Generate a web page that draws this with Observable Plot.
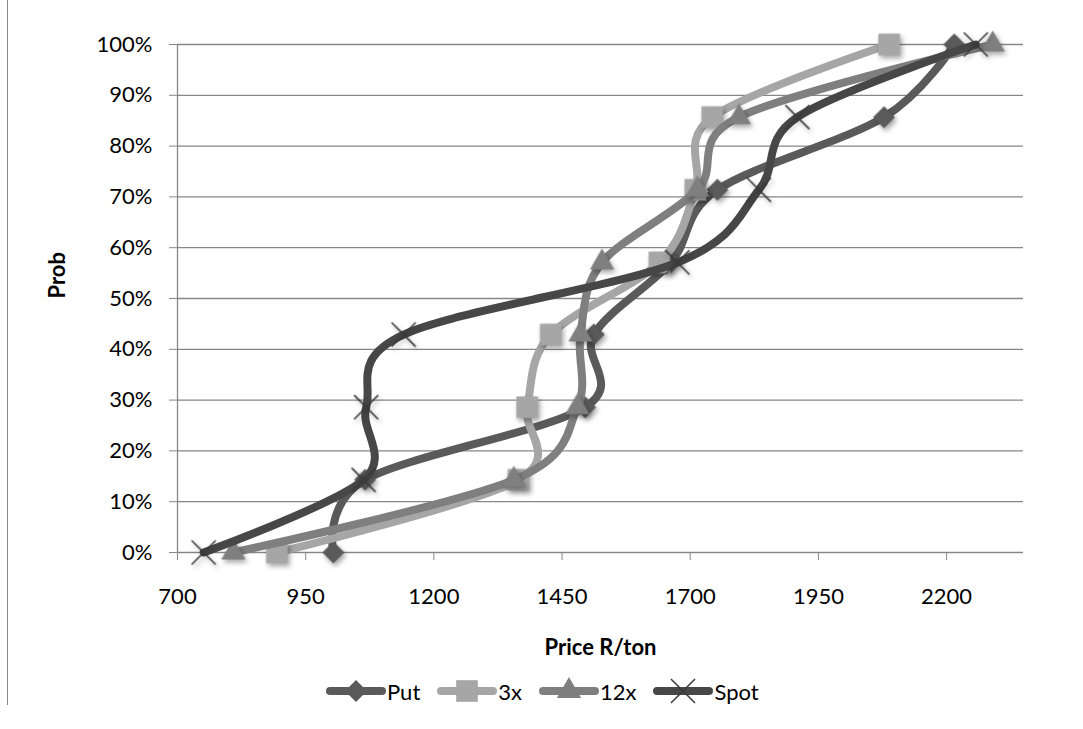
<!DOCTYPE html>
<html><head><meta charset="utf-8">
<script src="https://cdn.jsdelivr.net/npm/d3@7"></script>
<script src="https://cdn.jsdelivr.net/npm/@observablehq/plot@0.6"></script>
<style>
body{margin:0;background:#fff;font-family:Lato,"Open Sans",sans-serif;}
#wrap{position:relative;width:1083px;height:729px;overflow:hidden;}
#border{position:absolute;left:7px;top:0;width:0;height:705px;border-left:1.5px solid #868686;}
#chart{position:absolute;left:0;top:0;}
#legend{position:absolute;left:326px;top:674px;height:34px;display:flex;align-items:center;font-size:22px;color:#000;}
#legend .item{display:flex;align-items:center;margin-right:17px;}
#legend .item span{margin-left:1px;}
</style></head><body>
<div id="wrap"><div id="border"></div><div id="chart"></div><div id="legend"></div></div>
<script>
// probability levels (y values)
const probs = [0, 0.143, 0.286, 0.429, 0.571, 0.714, 0.857, 1.0];
// price (x values) per series
const putPrice  = [1004, 1066, 1495, 1512, 1662, 1753, 2078, 2215];
const x3Price   = [894, 1365, 1382, 1428, 1640, 1710, 1743, 2088];
const x12Price  = [809, 1356, 1480, 1486, 1528, 1714, 1795, 2290];
const spotPrice = [751, 1063, 1068, 1141, 1675, 1834, 1909, 2257];
const seriesNames = ["Put", "3x", "12x", "Spot"];
const xTicks = [700, 950, 1200, 1450, 1700, 1950, 2200];
const yTicks = [0, 0.1, 0.2, 0.3, 0.4, 0.5, 0.6, 0.7, 0.8, 0.9, 1.0];

const styles = {
  "Put":  {color:"#5a5a5a", symbol:"diamond2", r:9.9},
  "3x":   {color:"#a6a6a6", symbol:"square", r:12.2},
  "12x":  {color:"#7f7f7f", symbol:"triangle", r:9},
  "Spot": {color:"#474747", symbol:"times", r:11}
};
const priceLists = [putPrice, x3Price, x12Price, spotPrice];
const series = seriesNames.map((name, k) => ({
  name,
  rows: priceLists[k].map((p, i) => ({series: name, price: p, prob: probs[i]}))
}));

const marks = [
  Plot.ruleY(yTicks, {stroke: "#878787", strokeWidth: 1.3}),
  Plot.ruleX([700], {stroke: "#878787", strokeWidth: 1.3}),
  Plot.axisY({ticks: yTicks, tickFormat: d3.format(".0%"), tickSize: 8, tickPadding: 17, stroke: "#878787", label: null}),
  Plot.axisX({ticks: xTicks, tickFormat: d => String(d), tickSize: 8, tickPadding: 28, stroke: "#878787", label: null}),
  Plot.text(["Prob"], {frameAnchor: "left", dx: -120, rotate: -90, fontWeight: "bold", fontSize: 22}),
  Plot.text(["Price R/ton"], {frameAnchor: "bottom", dy: 102, fontWeight: "bold", fontSize: 22})
];
for (const s of series) {
  const st = styles[s.name];
  marks.push(Plot.line(s.rows, {x: "price", y: "prob", stroke: st.color, strokeWidth: 8, curve: "cardinal", strokeLinecap: "round", strokeLinejoin: "round"}));
  if (st.symbol === "times") {
    marks.push(Plot.dot(s.rows, {x: "price", y: "prob", symbol: st.symbol, r: st.r, stroke: "#3a3a3a", strokeWidth: 1.6, fill: "none"}));
  } else {
    marks.push(Plot.dot(s.rows, {x: "price", y: "prob", symbol: st.symbol, r: st.r, fill: st.color, stroke: "none"}));
  }
}

const chart = Plot.plot({
  width: 1083,
  height: 672,
  marginLeft: 177,
  marginRight: 60,
  marginTop: 44,
  marginBottom: 120,
  style: {fontFamily: "Lato, 'Open Sans', sans-serif", fontSize: "22px", color: "#000", background: "transparent", overflow: "visible"},
  x: {domain: [700, 2350]},
  y: {domain: [0, 1]},
  marks
});
chart.querySelectorAll('g[aria-label="dot"]').forEach(g => {
  g.style.filter = "drop-shadow(2px 3px 2.5px rgba(0,0,0,0.35))";
});
document.getElementById("chart").appendChild(chart);

// legend
const legend = d3.select("#legend");
for (const name of seriesNames) {
  const st = styles[name];
  const item = legend.append("div").attr("class", "item");
  const sv = item.append("svg").attr("width", 60).attr("height", 32);
  sv.append("line").attr("x1", 4).attr("x2", 56).attr("y1", 16).attr("y2", 16)
    .attr("stroke", st.color).attr("stroke-width", 8).attr("stroke-linecap", "round");
  const symMap = {diamond2: d3.symbolDiamond2, square: d3.symbolSquare, triangle: d3.symbolTriangle, times: d3.symbolTimes};
  const rr = st.r;
  const path = sv.append("path").attr("transform", "translate(30,16)")
    .attr("d", d3.symbol(symMap[st.symbol], rr * rr * Math.PI)());
  if (st.symbol === "times") path.attr("fill", "none").attr("stroke", "#3a3a3a").attr("stroke-width", 1.5);
  else path.attr("fill", st.color);
  item.append("span").text(name);
}
</script>
</body></html>
